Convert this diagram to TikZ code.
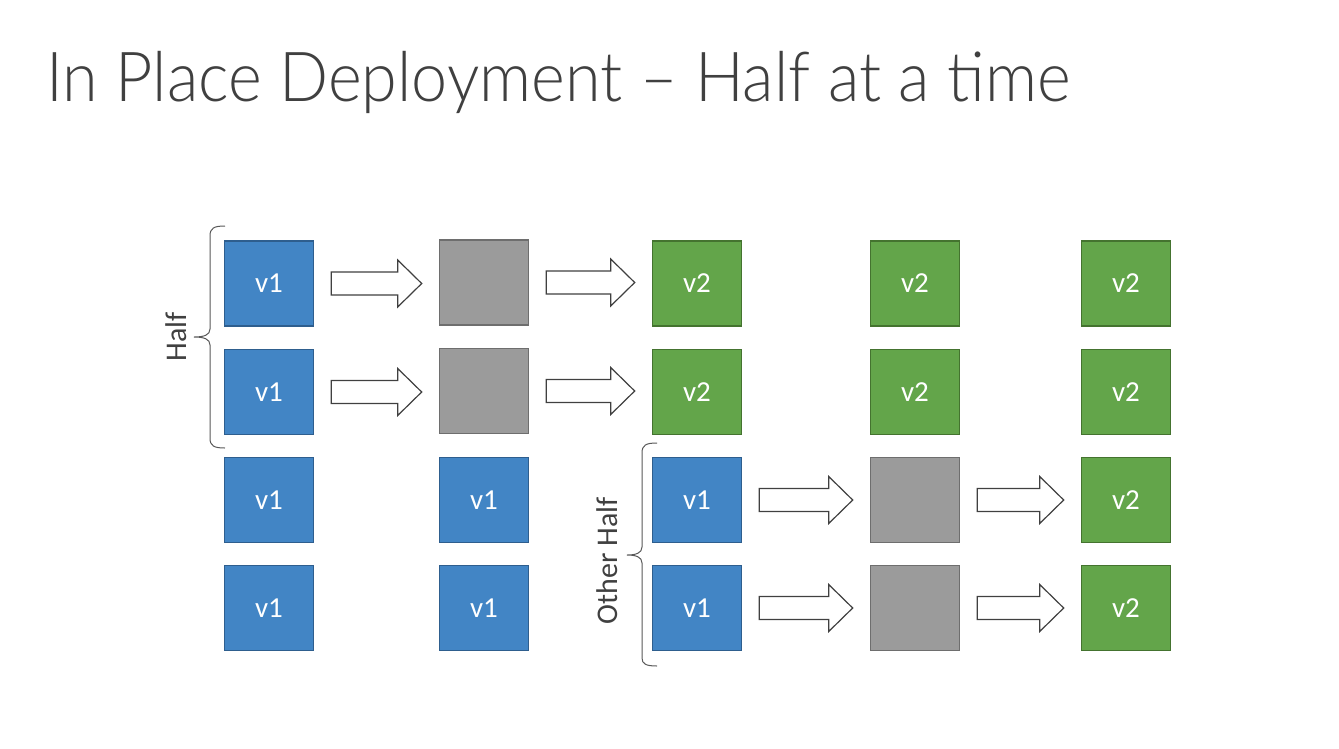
\documentclass[tikz,border=0pt]{standalone}
\usepackage{fontspec}
\setmainfont{Carlito}
\newfontfamily\titlefont{Lato}[UprightFont={* Light}]
\usetikzlibrary{calc}
\definecolor{bluefill}{HTML}{4285C5}
\definecolor{blueline}{HTML}{2E5E8E}
\definecolor{grayfill}{HTML}{9B9B9B}
\definecolor{grayline}{HTML}{6E6E6E}
\definecolor{greenfill}{HTML}{63A54A}
\definecolor{greenline}{HTML}{44732F}
\definecolor{inkgray}{HTML}{404040}
\tikzset{
  server/.style={minimum width=89pt, minimum height=85pt, inner sep=0pt,
    line width=1.6pt, text=white, font=\fontsize{29}{31}\selectfont},
  oldver/.style={server, fill=bluefill, draw=blueline},
  idle/.style={server, fill=grayfill, draw=grayline},
  newver/.style={server, fill=greenfill, draw=greenline},
  blockarrow/.style={draw=black!75, fill=white, line width=1.2pt, line join=miter},
  bracket/.style={draw=black!65, line width=1pt},
  sidelabel/.style={text=inkgray, font=\fontsize{30}{32}\selectfont, rotate=90},
}
% hollow block arrow between two server nodes
\newcommand\stagearrow[2]{%
  \path[blockarrow] let \p1=($(#1.east)+(17pt,0)$), \p2=($(#2.west)+(-17pt,0)$) in
    (\x1,\y1+11.5pt) -- (\x2-24pt,\y1+11.5pt) -- (\x2-24pt,\y1+23.5pt) -- (\x2,\y1)
    -- (\x2-24pt,\y1-23.5pt) -- (\x2-24pt,\y1-11.5pt) -- (\x1,\y1-11.5pt) -- cycle;}
\begin{document}
\begin{tikzpicture}[x=1pt,y=-1pt]
\useasboundingbox[fill=white] (0,0) rectangle (1339,748);

\node[anchor=base west, text=inkgray, inner sep=0pt,
  font=\titlefont\fontsize{69}{72}\selectfont] (title) at (46,101)
  {\scalebox{0.937}[1]{In Place Deployment – Half at a time}};

% column 1
\node[oldver] (a1) at (269,283.5) {v1};
\node[oldver] (a2) at (269,392) {v1};
\node[oldver] (a3) at (269,500) {v1};
\node[oldver] (a4) at (269,608) {v1};
% column 2
\node[idle] (b1) at (484,282.5) {};
\node[idle] (b2) at (484,391) {};
\node[oldver] (b3) at (484,500) {v1};
\node[oldver] (b4) at (484,608) {v1};
% column 3
\node[newver] (c1) at (697,283.5) {v2};
\node[newver] (c2) at (697,392) {v2};
\node[oldver] (c3) at (697,500) {v1};
\node[oldver] (c4) at (697,608) {v1};
% column 4
\node[newver] (d1) at (915,283.5) {v2};
\node[newver] (d2) at (915,392) {v2};
\node[idle] (d3) at (915,500) {};
\node[idle] (d4) at (915,608) {};
% column 5
\node[newver] (e1) at (1126,283.5) {v2};
\node[newver] (e2) at (1126,392) {v2};
\node[newver] (e3) at (1126,500) {v2};
\node[newver] (e4) at (1126,608) {v2};

\stagearrow{a1}{b1}
\stagearrow{a2}{b2}
\stagearrow{b1}{c1}
\stagearrow{b2}{c2}
\stagearrow{c3}{d3}
\stagearrow{c4}{d4}
\stagearrow{d3}{e3}
\stagearrow{d4}{e4}

% first half brace
\draw[bracket] (225,226) .. controls (214,226) and (210,228) .. (210,236)
  -- (210,329) .. controls (210,335) and (204,337) .. (194,337)
  .. controls (204,337) and (210,339) .. (210,345)
  -- (210,438) .. controls (210,446) and (214,448) .. (225,448);
\node[sidelabel] (half) at (176,337) {Half};

% other half brace
\draw[bracket] (657,443) .. controls (646,443) and (642,445) .. (642,453)
  -- (642,547) .. controls (642,553) and (636,555) .. (627,555)
  .. controls (636,555) and (642,557) .. (642,563)
  -- (642,658) .. controls (642,664) and (646,666) .. (657,666);
\node[sidelabel] (otherhalf) at (607,561) {Other Half};
\end{tikzpicture}
\end{document}
